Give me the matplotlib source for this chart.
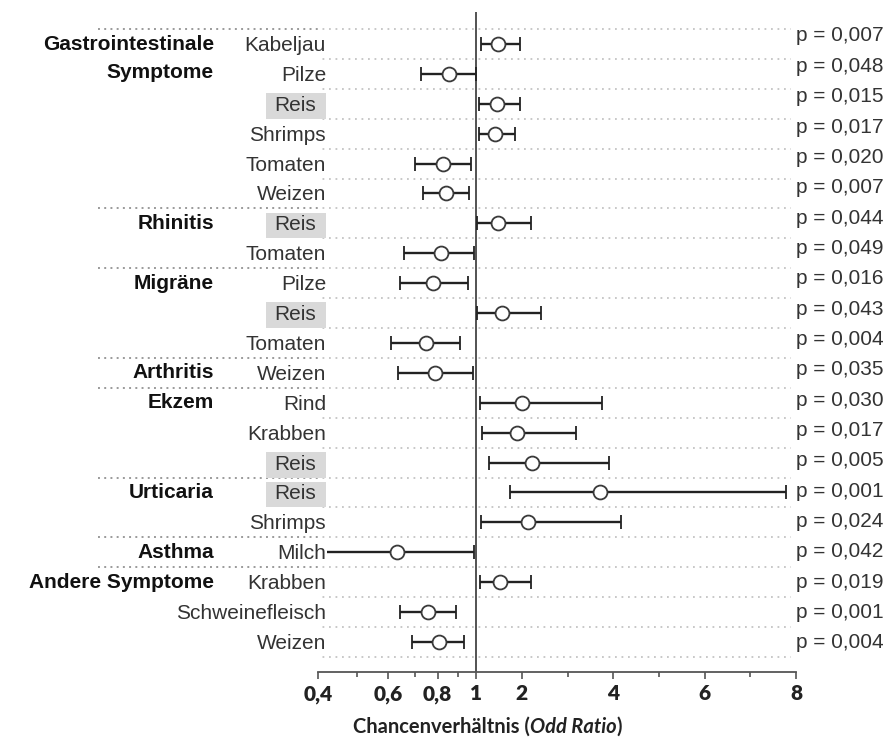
import numpy as np
import matplotlib
matplotlib.use("Agg")
import matplotlib.pyplot as plt
from matplotlib.transforms import blended_transform_factory
from matplotlib.patches import Rectangle
from matplotlib.lines import Line2D

# ---------------- data ----------------
groups = ["Gastrointestinale\nSymptome", "Rhinitis", "Migräne", "Arthritis",
          "Ekzem", "Urticaria", "Asthma", "Andere Symptome"]
group_sizes = [6, 2, 3, 1, 3, 2, 1, 3]
foods = ["Kabeljau", "Pilze", "Reis", "Shrimps", "Tomaten", "Weizen",
         "Reis", "Tomaten",
         "Pilze", "Reis", "Tomaten",
         "Weizen",
         "Rind", "Krabben", "Reis",
         "Reis", "Shrimps",
         "Milch",
         "Krabben", "Schweinefleisch", "Weizen"]
odds = [1.48, 0.853, 1.45, 1.41, 0.824, 0.84,
        1.48, 0.816,
        0.781, 1.57, 0.746,
        0.79,
        2.01, 1.90, 2.22,
        3.71, 2.14,
        0.632,
        1.52, 0.756, 0.805]
ci_low = [1.10, 0.727, 1.065, 1.065, 0.703, 0.734,
          1.01, 0.66,
          0.642, 1.03, 0.61,
          0.636,
          1.08, 1.12, 1.28,
          1.75, 1.10,
          0.38,
          1.08, 0.642, 0.69]
ci_high = [1.95, 1.0, 1.95, 1.86, 0.97, 0.957,
           2.20, 0.99,
           0.955, 2.43, 0.912,
           0.983,
           3.75, 3.19, 3.91,
           7.79, 4.17,
           0.99,
           2.19, 0.89, 0.933]
p_values = ["0,007", "0,048", "0,015", "0,017", "0,020", "0,007",
            "0,044", "0,049",
            "0,016", "0,043", "0,004",
            "0,035",
            "0,030", "0,017", "0,005",
            "0,001", "0,024",
            "0,042",
            "0,019", "0,001", "0,004"]
highlight_food = "Reis"
major_ticks = [0.4, 0.6, 0.8, 1, 2, 4, 6, 8]
major_labels = ["0,4", "0,6", "0,8", "1", "2", "4", "6", "8"]
minor_ticks = [0.5, 0.7, 0.9, 3, 5, 7]

# ---------------- scale: log below 1, linear above 1 ----------------
K = 400.0 / 46.0


def fwd(v):
    v = np.asarray(v, dtype=float)
    return np.where(v < 1, np.log10(np.clip(v, 1e-9, None)) * K, v - 1)


def inv(u):
    u = np.asarray(u, dtype=float)
    return np.where(u < 0, 10 ** (np.clip(u, -1e3, 0) / K), u + 1)


W, H = 888, 738
fig = plt.figure(figsize=(W / 100, H / 100), dpi=100)
ax = fig.add_axes([318 / W, 1 - 672 / H, (796 - 318) / W, (672 - 12) / H])
ax.set_xscale("function", functions=(fwd, inv))
ax.set_xlim(0.4, 8)
ax.set_ylim((672 - 44) / 29.9, (12 - 44) / 29.9)

n = len(foods)
rows = np.arange(n)
odds_a = np.array(odds)
lo_a = np.array(ci_low)
hi_a = np.array(ci_high)

txt_col = "#333333"
label_font = "Liberation Sans"

# grid lines between rows
for b in np.arange(-0.5, n + 0.5, 1.0):
    ax.axhline(b, xmin=-0.005, xmax=0.99, color="#c4c4c4",
               ls=(0, (1, 2.6)), lw=1.3, zorder=1)

# reference line at 1
ax.axvline(1, color="#444444", lw=1.3, zorder=2)

# error bars
ax.errorbar(odds_a, rows, xerr=[odds_a - lo_a, hi_a - odds_a], fmt="o",
            mfc="white", mec="#3a3a3a", ms=10, mew=1.3,
            ecolor="#222222", elinewidth=1.7, capsize=5, capthick=1.7,
            zorder=3)

blend = blended_transform_factory(fig.transFigure, ax.transData)

# group separators (left, darker dotted)
starts = np.concatenate([[0], np.cumsum(group_sizes)[:-1]])
for s in starts:
    ln = Line2D([98 / W, 318 / W], [s - 0.5, s - 0.5], transform=blend,
                color="#9a9a9a", ls=(0, (1, 2.2)), lw=1.4, clip_on=False)
    ax.add_artist(ln)

# group labels
for g, s in zip(groups, starts):
    if "\n" in g:
        ax.text(214 / W, s - 0.3, g, transform=blend, ha="right", va="top",
                fontsize=15, fontweight="bold", family=label_font,
                color="#111111", linespacing=1.6, multialignment="right",
                clip_on=False)
    else:
        ax.text(214 / W, s, g, transform=blend, ha="right", va="center",
                fontsize=15, fontweight="bold", family=label_font,
                color="#111111", clip_on=False)

# food labels
for i, f in enumerate(foods):
    if f == highlight_food:
        r = Rectangle((266 / W, i - 0.36), 60 / W, 0.86, transform=blend,
                      facecolor="#d9d9d9", edgecolor="none", zorder=4)
        r.set_clip_on(False)
        ax.add_artist(r)
        ax.text(316 / W, i + 0.05, f, transform=blend, ha="right",
                va="center", fontsize=15, family=label_font, color=txt_col,
                clip_on=False, zorder=5)
    else:
        ax.text(326 / W, i + 0.05, f, transform=blend, ha="right",
                va="center", fontsize=15, family=label_font, color=txt_col,
                clip_on=False, zorder=5,
                bbox=dict(boxstyle="square,pad=0.05", fc="white", ec="none"))

# p-values
p_rows = np.linspace((36 - 44) / 29.9, (643 - 44) / 29.9, n)
for y, p in zip(p_rows, p_values):
    ax.text(796 / W, y, "p = " + p, transform=blend, ha="left", va="center",
            fontsize=15, family=label_font, color=txt_col, clip_on=False)

# axes styling
for sp in ["left", "right", "top"]:
    ax.spines[sp].set_visible(False)
ax.spines["bottom"].set_color("#555555")
ax.spines["bottom"].set_linewidth(1.3)
ax.set_yticks([])
ax.set_xticks(major_ticks)
ax.set_xticklabels(major_labels, fontfamily="Lato", fontweight="heavy",
                   fontsize=15, color="#222222")
ax.set_xticks(minor_ticks, minor=True)
ax.tick_params(axis="x", which="major", length=5, width=1.2,
               color="#555555", pad=4)
ax.tick_params(axis="x", which="minor", length=3.5, width=1.2,
               color="#555555")

# x label with italic part
t1 = fig.text(353 / W, 1 - 733 / H, "Chancenverhältnis (", ha="left",
              va="baseline", fontsize=14.5, fontfamily="Lato",
              fontweight="bold", color="#222222")
t2 = ax.annotate("Odd Ratio", xy=(1, 0), xycoords=t1, ha="left",
                 va="bottom", fontsize=14.5, fontfamily="Lato",
                 fontweight="bold", fontstyle="italic", color="#222222",
                 annotation_clip=False)
t3 = ax.annotate(")", xy=(1, 0), xycoords=t2, ha="left", va="bottom",
                 fontsize=14.5, fontfamily="Lato", fontweight="bold",
                 color="#222222", annotation_clip=False)

fig.savefig("out.png", dpi=100, facecolor="white")
